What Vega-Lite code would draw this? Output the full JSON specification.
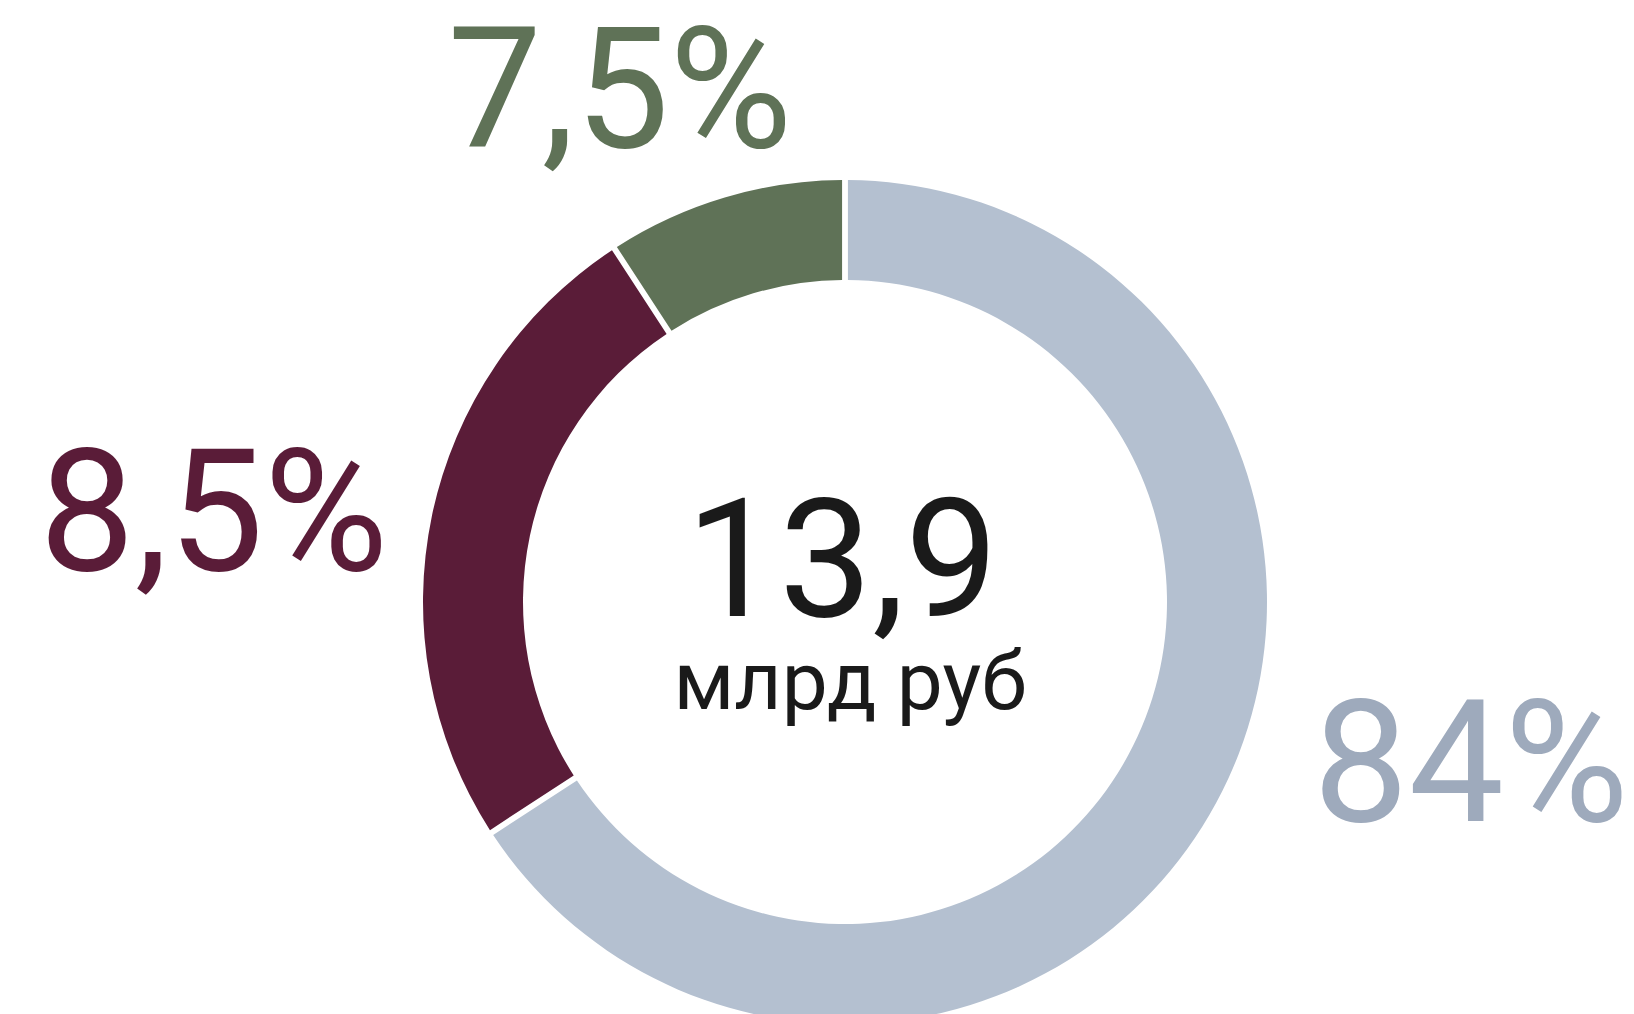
{
  "$schema": "https://vega.github.io/schema/vega-lite/v6.json",
  "autosize": {"type": "none"},
  "width": 1578,
  "height": 824,
  "padding": {"left": 56, "top": 190, "right": 0, "bottom": 0},
  "background": "#ffffff",
  "config": {"view": {"stroke": null}},
  "data": {
    "values": [
      {"seg": "blue", "rank": 1, "arc": 65.8, "label": "84%"},
      {"seg": "maroon", "rank": 2, "arc": 25.0, "label": "8,5%"},
      {"seg": "green", "rank": 3, "arc": 9.2, "label": "7,5%"}
    ]
  },
  "encoding": {
    "theta": {"field": "arc", "type": "quantitative", "stack": true},
    "order": {"field": "rank", "type": "quantitative"}
  },
  "layer": [
    {
      "mark": {"type": "arc", "outerRadius": 422, "innerRadius": 322, "padAngle": 0.011},
      "encoding": {
        "color": {
          "field": "seg",
          "type": "nominal",
          "scale": {"domain": ["blue", "maroon", "green"], "range": ["#b4c0d0", "#5a1c38", "#5f7257"]},
          "legend": null
        }
      }
    },
    {
      "mark": {"type": "text", "radius": 663, "thetaOffset": -0.16, "align": "center", "baseline": "alphabetic", "font": "Roboto", "fontSize": 170, "color": "#9eaabc"},
      "encoding": {
        "text": {"condition": {"test": "datum.seg === 'blue'", "field": "label", "type": "nominal"}, "value": ""}
      }
    },
    {
      "mark": {"type": "text", "radius": 632, "thetaOffset": -0.157, "align": "center", "baseline": "alphabetic", "font": "Roboto", "fontSize": 170, "color": "#5a1c38"},
      "encoding": {
        "text": {"condition": {"test": "datum.seg === 'maroon'", "field": "label", "type": "nominal"}, "value": ""}
      }
    },
    {
      "mark": {"type": "text", "radius": 508, "thetaOffset": -0.17, "align": "center", "baseline": "alphabetic", "font": "Roboto", "fontSize": 168, "color": "#5f7257"},
      "encoding": {
        "text": {"condition": {"test": "datum.seg === 'green'", "field": "label", "type": "nominal"}, "value": ""}
      }
    },
    {
      "data": {"values": [{"total": "13,9", "unit": "млрд руб"}]},
      "mark": {"type": "text", "align": "center", "baseline": "alphabetic", "font": "Roboto", "fontSize": 166, "color": "#1a1a1a", "dx": -3, "dy": 14},
      "encoding": {"theta": null, "order": null, "text": {"field": "total", "type": "nominal"}}
    },
    {
      "data": {"values": [{"total": "13,9", "unit": "млрд руб"}]},
      "mark": {"type": "text", "align": "center", "baseline": "alphabetic", "font": "Roboto", "fontSize": 82, "color": "#1a1a1a", "dx": 5, "dy": 107},
      "encoding": {"theta": null, "order": null, "text": {"field": "unit", "type": "nominal"}}
    }
  ]
}
